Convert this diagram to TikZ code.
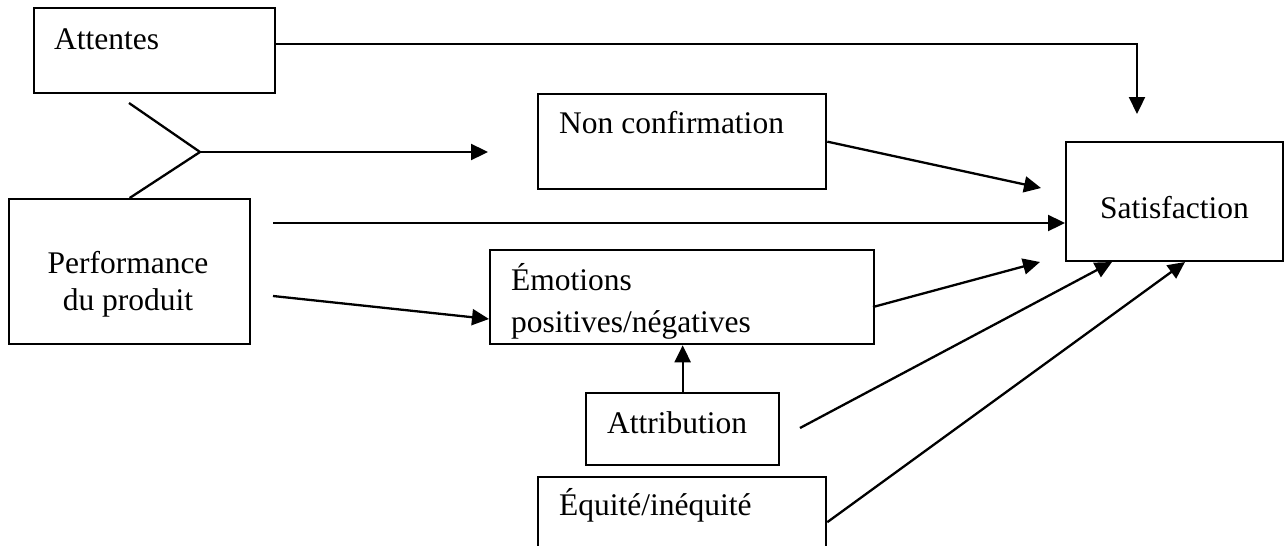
\documentclass[tikz,border=0pt]{standalone}
\usepackage{fontspec}
\setmainfont{Liberation Serif}
\usetikzlibrary{arrows.meta}
\begin{document}
\begin{tikzpicture}[x=1pt,y=-1pt,line width=2.3pt,
  box/.style={draw,line width=2.3pt,rectangle,inner sep=0pt,anchor=north west},
  lbl/.style={font=\fontsize{31.5}{37}\selectfont,inner sep=0pt,anchor=base west},
  lblc/.style={lbl,anchor=base},
  arr/.style={-{Triangle[length=17pt,width=16pt]}}]
\useasboundingbox (0,0) rectangle (1288,546);
\clip (0,0) rectangle (1288,546);
\fill[white] (0,0) rectangle (1288,546);
% boxes
\node[box,minimum width=241pt,minimum height=85pt] (attB) at (33,7) {};
\node[box,minimum width=241pt,minimum height=145pt] (perfB) at (8,198) {};
\node[box,minimum width=288pt,minimum height=95pt] (nonB) at (537,93) {};
\node[box,minimum width=384pt,minimum height=94pt] (emoB) at (489,249) {};
\node[box,minimum width=193pt,minimum height=72pt] (attrB) at (585,392) {};
\node[box,minimum width=288pt,minimum height=90pt] (equB) at (537,476) {};
\node[box,minimum width=217pt,minimum height=119pt] (satB) at (1065,141) {};
% texts
\node[lbl] (attT) at (53,49) {Attentes};
\node[lbl] (nonT) at (558,133) {Non confirmation};
\node[lbl] (satT) at (1099,218) {Satisfaction};
\node[lblc] (perfT1) at (128,273) {Performance};
\node[lblc] (perfT2) at (128,310) {du produit};
\node[lbl] (emoT1) at (510,290) {Émotions};
\node[lbl] (emoT2) at (510,332) {positives/négatives};
\node[lbl] (attrT) at (606,433) {Attribution};
\node[lbl] (equT) at (558,515) {Équité/inéquité};
% coordinates
\coordinate (attS) at (274,44);
\coordinate (attC) at (1137,44);
\coordinate (attE) at (1137,114);
\coordinate (yTop) at (129,103);
\coordinate (yMid) at (200,152);
\coordinate (yEnd) at (488,152);
\coordinate (nonE) at (1041,188);
\coordinate (pS1) at (273,223);
\coordinate (pS2) at (273,296);
\coordinate (emoIn) at (489,319);
\coordinate (emoS) at (873,307);
\coordinate (emoE) at (1040,262);
\coordinate (attrS) at (800,428);
\coordinate (attrE) at (1112,262);
\coordinate (equE) at (1185,262);
% connectors
\draw[arr] (attS) -- (attC) -- (attE);
\draw (yTop) -- (yMid) -- (perfB.north);
\draw[arr] (yMid) -- (yEnd);
\draw[arr] (nonB.east) -- (nonE);
\draw[arr] (pS1) -- (pS1 -| satB.west);
\draw[arr] (pS2) -- (emoIn);
\draw[arr] (emoS) -- (emoE);
\draw[arr] (attrB.north) -- (attrB.north |- emoB.south);
\draw[arr] (attrS) -- (attrE);
\draw[arr] (equB.east) -- (equE);
\end{tikzpicture}
\end{document}
